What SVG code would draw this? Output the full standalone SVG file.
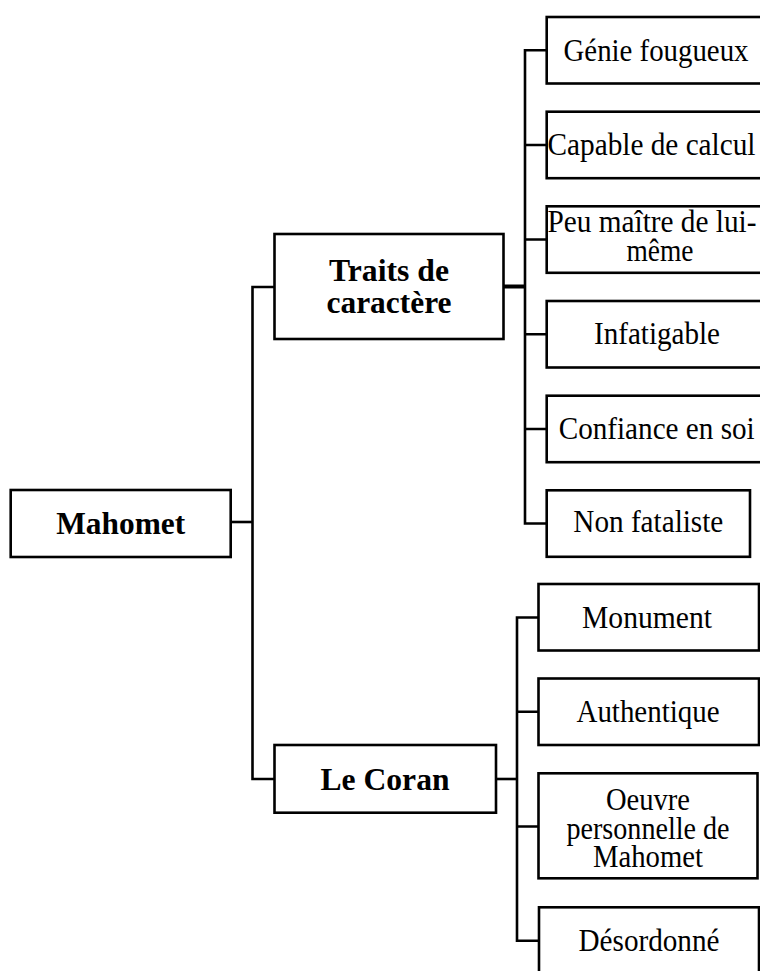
<svg xmlns="http://www.w3.org/2000/svg" width="760" height="971" viewBox="0 0 760 971">
<style>
.box{fill:#fff;stroke:#000;stroke-width:2.6}
.conn{fill:none;stroke:#000;stroke-width:2.6}
.thick{stroke-width:4}
.t{font-family:"Liberation Serif","Times New Roman",serif;font-size:31px;fill:#000;text-anchor:middle}
.s{text-anchor:start}
.b{font-weight:bold;font-size:32px}
</style>
<rect width="760" height="971" fill="#fff"/>
<g id="connectors">
<path class="conn" d="M230.7,522 H252.5"/>
<path class="conn" d="M274.5,287 H252.5 V779 H274.5"/>
<path class="conn thick" d="M503.5,286.5 H525"/>
<path class="conn" d="M546.7,50.3 H525 V523.5 H546.7"/>
<path class="conn" d="M525,145 H546.7 M525,239.5 H546.7 M525,334.3 H546.7 M525,429 H546.7"/>
<path class="conn" d="M496,779 H517"/>
<path class="conn" d="M538.5,617.5 H517 V940.7 H539"/>
<path class="conn" d="M517,711.7 H538.5 M517,826.5 H538.5"/>
</g>
<g id="mahomet">
<rect class="box" x="10.7" y="490" width="220" height="67"/>
<text class="t b" x="120.7" y="534" textLength="129" lengthAdjust="spacingAndGlyphs">Mahomet</text>
</g>
<g id="traits">
<rect class="box" x="274.5" y="234" width="229" height="105"/>
<text class="t b" x="389" y="280.5" textLength="120" lengthAdjust="spacingAndGlyphs">Traits de</text>
<text class="t b" x="389" y="312.5" textLength="125" lengthAdjust="spacingAndGlyphs">caractère</text>
</g>
<g id="coran">
<rect class="box" x="274.5" y="745" width="221.5" height="67.7"/>
<text class="t b" x="385" y="790" textLength="129" lengthAdjust="spacingAndGlyphs">Le Coran</text>
</g>
<g id="genie">
<rect class="box" x="546.7" y="17" width="225" height="66.5"/>
<text class="t" x="656" y="60.5" textLength="185" lengthAdjust="spacingAndGlyphs">Génie fougueux</text>
</g>
<g id="capable">
<rect class="box" x="546.7" y="111.7" width="225" height="66.5"/>
<text class="t s" x="547.5" y="155" textLength="208" lengthAdjust="spacingAndGlyphs">Capable de calcul</text>
</g>
<g id="peu">
<rect class="box" x="546.7" y="206.3" width="225" height="66.5"/>
<text class="t s" x="547.5" y="232" textLength="209" lengthAdjust="spacingAndGlyphs">Peu maître de lui-</text>
<text class="t" x="660" y="261" textLength="67" lengthAdjust="spacingAndGlyphs">même</text>
</g>
<g id="infatigable">
<rect class="box" x="546.7" y="301" width="225" height="66.5"/>
<text class="t" x="657" y="343.5" textLength="126" lengthAdjust="spacingAndGlyphs">Infatigable</text>
</g>
<g id="confiance">
<rect class="box" x="546.7" y="395.7" width="225" height="66.5"/>
<text class="t" x="656.7" y="438.5" textLength="196" lengthAdjust="spacingAndGlyphs">Confiance en soi</text>
</g>
<g id="nonfataliste">
<rect class="box" x="546.7" y="490.3" width="203.3" height="66.5"/>
<text class="t" x="648.3" y="532" textLength="150" lengthAdjust="spacingAndGlyphs">Non fataliste</text>
</g>
<g id="monument">
<rect class="box" x="538.5" y="584" width="220.5" height="66.5"/>
<text class="t" x="647" y="628" textLength="130" lengthAdjust="spacingAndGlyphs">Monument</text>
</g>
<g id="authentique">
<rect class="box" x="538.5" y="678.5" width="220.5" height="66.5"/>
<text class="t" x="648" y="721.5" textLength="143" lengthAdjust="spacingAndGlyphs">Authentique</text>
</g>
<g id="oeuvre">
<rect class="box" x="538.5" y="773.3" width="219" height="105"/>
<text class="t" x="648" y="810" textLength="84" lengthAdjust="spacingAndGlyphs">Oeuvre</text>
<text class="t" x="648" y="838.5" textLength="163" lengthAdjust="spacingAndGlyphs">personnelle de</text>
<text class="t" x="648" y="867" textLength="110" lengthAdjust="spacingAndGlyphs">Mahomet</text>
</g>
<g id="desordonne">
<rect class="box" x="539" y="907.3" width="220" height="70"/>
<text class="t" x="649" y="950.7" textLength="141" lengthAdjust="spacingAndGlyphs">Désordonné</text>
</g>
</svg>
